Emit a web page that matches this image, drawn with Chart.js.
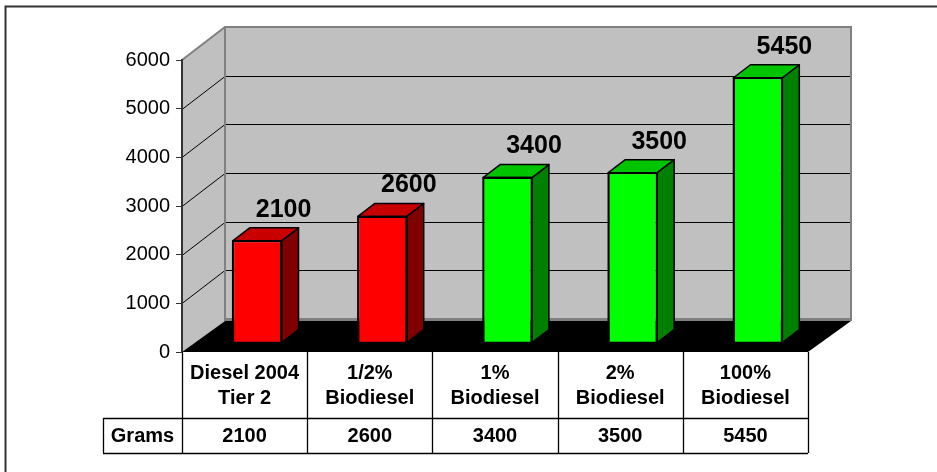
<!DOCTYPE html>
<html><head><meta charset="utf-8">
<script src="https://cdn.jsdelivr.net/npm/chart.js@4.4.1/dist/chart.umd.min.js"></script>
<style>html,body{margin:0;padding:0;background:#fff}canvas{display:block}</style>
</head><body>
<canvas id="c" width="937" height="472"></canvas>
<script>
// ---- data ----
const categories = [["Diesel 2004","Tier 2"],["1/2%","Biodiesel"],["1%","Biodiesel"],["2%","Biodiesel"],["100%","Biodiesel"]];
const grams = [2100, 2600, 3400, 3500, 5450];
const seriesName = "Grams";
const yMin = 0, yMax = 6000, yStep = 1000;

// ---- styles ----
const frontColors = ["#FF0000","#FF0000","#00FF00","#00FF00","#00FF00"];
const topColors   = ["#C80000","#C80000","#00C400","#00C400","#00C400"];
const sideColors  = ["#800000","#800000","#008000","#008000","#008000"];
const WALL = {dx:43, dy:-33};
const FLOOR_DY = -31;
const BAR_SHIFT = {dx:12.5, dy:-9};
const BAR_DEPTH = {dx:17, dy:-13};
const TABLE = {headerBottom:418, bottom:453, left:103};
const FONT = '"Liberation Sans", Arial, sans-serif';

const threeD = {
  id:'threeD',
  beforeDraw(chart){
    const {ctx, chartArea:a, scales:{y}} = chart;
    ctx.save();
    // outer frame
    ctx.strokeStyle='#333'; ctx.lineWidth=2;
    ctx.beginPath(); ctx.moveTo(5.5,472); ctx.lineTo(5.5,6.5); ctx.lineTo(937,6.5); ctx.stroke();
    const top = y.getPixelForValue(yMax), bot = y.getPixelForValue(0);
    const bx0=a.left+WALL.dx, bx1=a.right+WALL.dx, by0=top+WALL.dy, by1=bot+FLOOR_DY;
    ctx.fillStyle='#C0C0C0';
    ctx.fillRect(bx0,by0,bx1-bx0,by1-by0);
    ctx.beginPath(); ctx.moveTo(a.left,top); ctx.lineTo(bx0,by0); ctx.lineTo(bx0,by1); ctx.lineTo(a.left,bot); ctx.closePath(); ctx.fill();
    // floor
    ctx.fillStyle='#000';
    ctx.beginPath(); ctx.moveTo(a.left,bot); ctx.lineTo(a.right,bot); ctx.lineTo(bx1,by1); ctx.lineTo(bx0,by1); ctx.closePath(); ctx.fill();
    // gridlines
    ctx.strokeStyle='#000'; ctx.lineWidth=1;
    y.ticks.forEach(t=>{
      if(t.value<=yMin||t.value>=yMax) return;
      const p=Math.round(y.getPixelForValue(t.value))+0.5;
      ctx.beginPath(); ctx.moveTo(a.left,p); ctx.lineTo(bx0,p+WALL.dy); ctx.lineTo(bx1,p+WALL.dy); ctx.stroke();
    });
    // wall edges
    ctx.strokeStyle='#808080'; ctx.lineWidth=2;
    ctx.beginPath(); ctx.moveTo(a.left,top); ctx.lineTo(bx0,by0); ctx.lineTo(bx1,by0); ctx.lineTo(bx1,by1); ctx.stroke();
    ctx.beginPath(); ctx.moveTo(bx0,by0); ctx.lineTo(bx0,by1); ctx.stroke();
    ctx.lineWidth=3;
    ctx.beginPath(); ctx.moveTo(bx0,by1-1.5); ctx.lineTo(bx1,by1-1.5); ctx.stroke();
    ctx.restore();
  },
  beforeDatasetsDraw(chart){
    chart.ctx.save();
    chart.ctx.translate(BAR_SHIFT.dx, BAR_SHIFT.dy);
  },
  afterDatasetsDraw(chart){
    const ctx=chart.ctx;
    const meta=chart.getDatasetMeta(0);
    ctx.lineWidth=1.5; ctx.strokeStyle='#000'; ctx.lineJoin='round';
    meta.data.forEach((el,i)=>{
      const {x,y,base,width}=el.getProps(['x','y','base','width'],true);
      const l=x-width/2, r=x+width/2;
      // side
      ctx.fillStyle=sideColors[i];
      ctx.beginPath(); ctx.moveTo(r,y); ctx.lineTo(r+BAR_DEPTH.dx,y+BAR_DEPTH.dy); ctx.lineTo(r+BAR_DEPTH.dx,base+BAR_DEPTH.dy); ctx.lineTo(r,base); ctx.closePath(); ctx.fill(); ctx.stroke();
      // top
      ctx.fillStyle=topColors[i];
      ctx.beginPath(); ctx.moveTo(l,y); ctx.lineTo(r,y); ctx.lineTo(r+BAR_DEPTH.dx,y+BAR_DEPTH.dy); ctx.lineTo(l+BAR_DEPTH.dx,y+BAR_DEPTH.dy); ctx.closePath(); ctx.fill(); ctx.stroke();
      ctx.strokeRect(l,y,width,base-y);
    });
    ctx.restore();
    // value labels
    ctx.save();
    ctx.fillStyle='#000'; ctx.font='bold 25px '+FONT; ctx.textAlign='center'; ctx.textBaseline='middle';
    meta.data.forEach((el,i)=>{
      const {x,y}=el.getProps(['x','y'],true);
      ctx.fillText(String(grams[i]), x+39, y-40);
    });
    ctx.restore();
  },
  afterDraw(chart){
    const {ctx, chartArea:a, scales:{x,y}} = chart;
    const bot=y.getPixelForValue(0);
    const half=(x.getPixelForValue(1)-x.getPixelForValue(0))/2;
    ctx.save();
    ctx.strokeStyle='#000'; ctx.lineWidth=1.3;
    ctx.beginPath();
    for(let i=0;i<=categories.length;i++){
      const px=Math.round(a.left+i*half*2)+0.5;
      ctx.moveTo(px,bot); ctx.lineTo(px,TABLE.bottom);
    }
    ctx.moveTo(TABLE.left,TABLE.headerBottom+0.5); ctx.lineTo(a.right,TABLE.headerBottom+0.5);
    ctx.moveTo(TABLE.left,TABLE.bottom+0.5); ctx.lineTo(a.right,TABLE.bottom+0.5);
    ctx.moveTo(TABLE.left+0.5,TABLE.headerBottom); ctx.lineTo(TABLE.left+0.5,TABLE.bottom);
    ctx.stroke();
    ctx.fillStyle='#000'; ctx.font='bold 20px '+FONT; ctx.textAlign='center'; ctx.textBaseline='middle';
    const rowY=(TABLE.headerBottom+TABLE.bottom)/2+1;
    categories.forEach((lines,i)=>{
      const cx=x.getPixelForValue(i);
      lines.forEach((t,j)=>ctx.fillText(t,cx,bot+21+j*25));
      ctx.fillText(String(grams[i]),cx,rowY);
    });
    ctx.fillText(seriesName,(TABLE.left+a.left)/2,rowY);
    ctx.restore();
  }
};

new Chart(document.getElementById('c'),{
  type:'bar',
  data:{
    labels:categories.map(c=>c.join(' ')),
    datasets:[{label:seriesName,data:grams,backgroundColor:frontColors,borderColor:'#000',borderWidth:1.5,
      barPercentage:0.39,categoryPercentage:1}]
  },
  options:{
    responsive:false, animation:false,
    layout:{padding:{left:112,right:129,top:60,bottom:120}},
    plugins:{legend:{display:false},tooltip:{enabled:false}},
    scales:{
      x:{display:false},
      y:{min:yMin,max:yMax,
        ticks:{stepSize:yStep,color:'#000',font:{family:FONT,size:20},padding:6,callback:v=>String(v)},
        grid:{drawOnChartArea:false,drawTicks:true,tickLength:6,color:'#333',lineWidth:1},
        border:{display:true,color:'#333',width:2},
        afterFit(s){s.width=70;}
      }
    }
  },
  plugins:[threeD]
});
</script>
</body></html>
